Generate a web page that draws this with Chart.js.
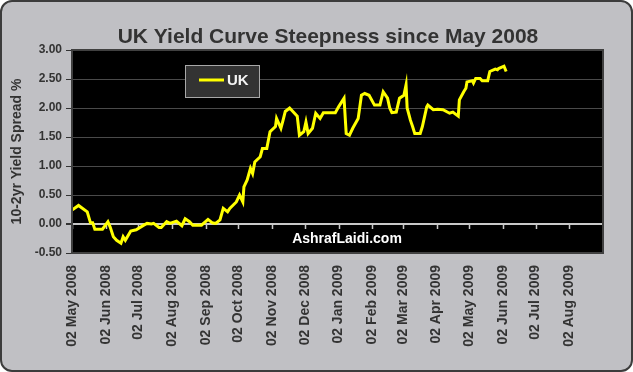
<!DOCTYPE html>
<html>
<head>
<meta charset="utf-8">
<script src="https://cdn.jsdelivr.net/npm/chart.js@4.4.0/dist/chart.umd.min.js"></script>
<style>
body { margin: 0; }
#frame {
  position: absolute; left: 0; top: 0;
  width: 633px; height: 372px; box-sizing: border-box;
  border: 2px solid #3c3c3c; border-radius: 12px;
  background: #c0c0c4;
}
#c { position: absolute; left: 0; top: 0; }
</style>
</head>
<body>
<div id="frame"></div>
<canvas id="c" width="633" height="372"></canvas>
<script>
// UK 10yr - 2yr gilt spread
const dates = [
  '2008-05-02','2008-05-08','2008-05-16','2008-05-19','2008-05-21','2008-05-23','2008-05-30','2008-06-04','2008-06-06','2008-06-09',
  '2008-06-12','2008-06-16','2008-06-18','2008-06-20','2008-06-25','2008-06-30','2008-07-07','2008-07-10','2008-07-14','2008-07-16',
  '2008-07-21','2008-07-23','2008-07-28','2008-07-31','2008-08-06','2008-08-11','2008-08-14','2008-08-18','2008-08-21','2008-08-27',
  '2008-08-29','2008-09-04','2008-09-08','2008-09-11','2008-09-15','2008-09-18','2008-09-22','2008-09-24','2008-09-30','2008-10-03',
  '2008-10-06','2008-10-07','2008-10-10','2008-10-13','2008-10-15','2008-10-17','2008-10-22','2008-10-24','2008-10-28','2008-10-31',
  '2008-11-05','2008-11-06','2008-11-10','2008-11-12','2008-11-14','2008-11-18','2008-11-24','2008-11-25','2008-11-27','2008-12-01',
  '2008-12-03','2008-12-05','2008-12-09','2008-12-12','2008-12-16','2008-12-19','2008-12-30','2009-01-02','2009-01-07','2009-01-09',
  '2009-01-12','2009-01-15','2009-01-20','2009-01-23','2009-01-26','2009-01-30','2009-02-04','2009-02-09','2009-02-12','2009-02-16',
  '2009-02-18','2009-02-20','2009-02-24','2009-02-27','2009-03-03','2009-03-05','2009-03-06','2009-03-09','2009-03-11','2009-03-13',
  '2009-03-18','2009-03-20','2009-03-24','2009-03-25','2009-03-30','2009-04-03','2009-04-08','2009-04-14','2009-04-17','2009-04-22',
  '2009-04-23','2009-04-27','2009-04-29','2009-04-30','2009-05-05','2009-05-06','2009-05-08','2009-05-12','2009-05-14','2009-05-19',
  '2009-05-21','2009-05-26','2009-05-28','2009-05-29','2009-06-03','2009-06-05'
];

const spreadUK = [
  0.24, 0.32, 0.21, 0.02, 0.02, -0.09, -0.09, 0.04, -0.05, -0.22,
  -0.28, -0.33, -0.22, -0.28, -0.12, -0.10, -0.02, 0.01, 0.00, 0.01,
  -0.06, -0.06, 0.04, 0.01, 0.05, -0.03, 0.09, 0.04, -0.02, -0.02,
  -0.02, 0.08, 0.02, 0.01, 0.07, 0.27, 0.21, 0.27, 0.38, 0.50,
  0.38, 0.64, 0.76, 0.96, 0.87, 1.07, 1.16, 1.30, 1.30, 1.59,
  1.68, 1.82, 1.65, 1.79, 1.94, 2.00, 1.88, 1.86, 1.53, 1.59,
  1.76, 1.56, 1.65, 1.91, 1.82, 1.92, 1.92, 2.02, 2.17, 1.56,
  1.53, 1.65, 1.82, 2.22, 2.25, 2.22, 2.05, 2.05, 2.28, 2.17,
  2.00, 1.92, 1.93, 2.17, 2.22, 2.40, 2.00, 1.79, 1.68, 1.56,
  1.56, 1.68, 2.02, 2.05, 1.97, 1.98, 1.97, 1.91, 1.93, 1.86,
  2.14, 2.28, 2.34, 2.45, 2.47, 2.43, 2.51, 2.51, 2.47, 2.47,
  2.63, 2.67, 2.66, 2.68, 2.72, 2.63
];

const tickDates = [
  '2008-05-02','2008-06-02','2008-07-02','2008-08-02','2008-09-02','2008-10-02','2008-11-02','2008-12-02',
  '2009-01-02','2009-02-02','2009-03-02','2009-04-02','2009-05-02','2009-06-02','2009-07-02','2009-08-02'
];
const axisStart = '2008-05-02';
const axisEnd = '2009-09-02';
const months = ['Jan','Feb','Mar','Apr','May','Jun','Jul','Aug','Sep','Oct','Nov','Dec'];

function dayOf(s) {
  const p = s.split('-').map(Number);
  const a = axisStart.split('-').map(Number);
  return (Date.UTC(p[0], p[1] - 1, p[2]) - Date.UTC(a[0], a[1] - 1, a[2])) / 86400000;
}
function labelOf(s) {
  const p = s.split('-');
  return p[2] + ' ' + months[Number(p[1]) - 1] + ' ' + p[0];
}

const points = dates.map((d, i) => ({ x: dayOf(d), y: spreadUK[i] }));
const tickLabels = {};
tickDates.forEach(d => { tickLabels[dayOf(d)] = labelOf(d); });

const decor = {
  id: 'decor',
  beforeDraw(chart) {
    const { ctx, chartArea: a } = chart;
    ctx.save();
    ctx.fillStyle = '#000';
    ctx.fillRect(a.left, a.top, a.right - a.left, a.bottom - a.top);
    ctx.restore();
  },
  beforeDatasetsDraw(chart) {
    // month tick marks hanging from the zero line
    const { ctx, scales: { x, y } } = chart;
    const y0 = y.getPixelForValue(0);
    ctx.save();
    ctx.strokeStyle = '#c8c8c8';
    ctx.lineWidth = 1.5;
    tickDates.forEach(d => {
      const px = Math.round(x.getPixelForValue(dayOf(d))) + 0.5;
      ctx.beginPath();
      ctx.moveTo(px, y0);
      ctx.lineTo(px, y0 + 5);
      ctx.stroke();
    });
    ctx.restore();
  },
  afterDraw(chart) {
    const { ctx, chartArea: a } = chart;
    ctx.save();
    // plot frame
    ctx.strokeStyle = '#404040';
    ctx.lineWidth = 2;
    ctx.strokeRect(a.left, a.top, a.right - a.left, a.bottom - a.top);

    // title
    ctx.fillStyle = '#333';
    ctx.font = 'bold 21px "Liberation Sans", Arial, sans-serif';
    ctx.textAlign = 'center';
    ctx.textBaseline = 'alphabetic';
    ctx.fillText('UK Yield Curve Steepness since May 2008', 328, 43);

    // legend
    const lx = 185, ly = 65;
    ctx.fillStyle = '#333333';
    ctx.fillRect(lx, ly, 74, 32);
    ctx.strokeStyle = '#a8a8a8';
    ctx.lineWidth = 1;
    ctx.strokeRect(lx + 0.5, ly + 0.5, 74, 32);
    ctx.strokeStyle = '#ffff00';
    ctx.lineWidth = 3;
    ctx.beginPath();
    ctx.moveTo(lx + 14, ly + 15);
    ctx.lineTo(lx + 39, ly + 15);
    ctx.stroke();
    ctx.fillStyle = '#f4f4f4';
    ctx.font = 'bold 15px "Liberation Sans", Arial, sans-serif';
    ctx.textAlign = 'left';
    ctx.textBaseline = 'middle';
    ctx.fillText(chart.data.datasets[0].label, lx + 42, ly + 16);

    // watermark
    ctx.fillStyle = '#ffffff';
    ctx.font = 'bold 14px "Liberation Sans", Arial, sans-serif';
    ctx.textAlign = 'center';
    ctx.textBaseline = 'alphabetic';
    ctx.fillText('AshrafLaidi.com', 347, a.bottom - 10);
    ctx.restore();
  }
};

new Chart(document.getElementById('c'), {
  type: 'line',
  data: {
    datasets: [{
      label: 'UK',
      data: points,
      borderColor: '#ffff00',
      borderWidth: 3,
      pointRadius: 0,
      tension: 0,
      fill: false
    }]
  },
  options: {
    responsive: false,
    animation: false,
    devicePixelRatio: 1,
    layout: { padding: { left: 9, right: 30, top: 50, bottom: 0 } },
    plugins: {
      legend: { display: false },
      title: { display: false },
      tooltip: { enabled: false }
    },
    scales: {
      x: {
        type: 'linear',
        min: dayOf(axisStart),
        max: dayOf(axisEnd),
        afterBuildTicks(scale) {
          scale.ticks = tickDates.map(d => ({ value: dayOf(d) }));
        },
        afterFit(scale) { scale.height = 119; },
        grid: { display: false, drawTicks: false },
        border: { display: false },
        ticks: {
          autoSkip: false,
          minRotation: 90,
          maxRotation: 90,
          padding: 12,
          color: '#333',
          font: { family: '"Liberation Sans", Arial, sans-serif', size: 14, weight: 'bold' },
          callback: v => tickLabels[v] || ''
        }
      },
      y: {
        min: -0.5,
        max: 3,
        afterFit(scale) { scale.width = 63; },
        grid: {
          color: c => (c.tick && c.tick.value === 0) ? '#c8c8c8' : '#4a4a4a',
          lineWidth: c => (c.tick && c.tick.value === 0) ? 2 : 1,
          tickColor: '#333',
          tickLength: 6
        },
        border: { display: true, color: '#333' },
        ticks: {
          stepSize: 0.5,
          padding: 4,
          color: '#333',
          font: { family: '"Liberation Sans", Arial, sans-serif', size: 12, weight: 'bold' },
          callback: v => v.toFixed(2)
        },
        title: {
          display: true,
          text: '10-2yr Yield Spread %',
          color: '#333',
          padding: 0,
          font: { family: '"Liberation Sans", Arial, sans-serif', size: 14, weight: 'bold' }
        }
      }
    }
  },
  plugins: [decor]
});
</script>
</body>
</html>
